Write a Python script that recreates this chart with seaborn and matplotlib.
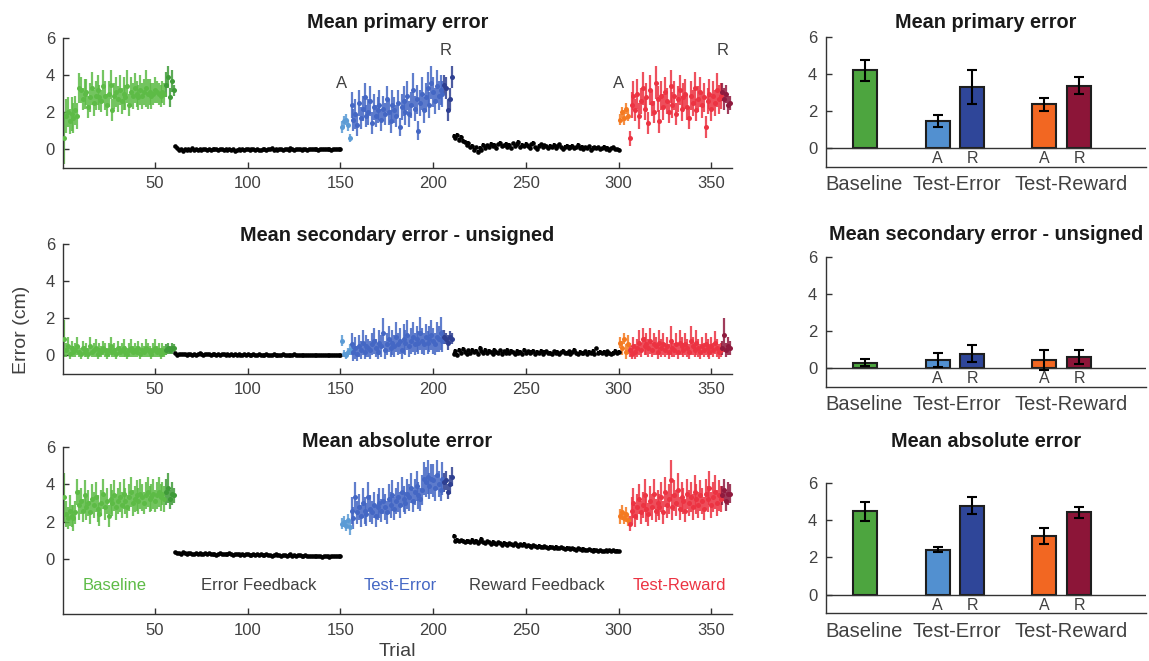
import numpy as np
import pandas as pd
import matplotlib
matplotlib.use("Agg")
import matplotlib.pyplot as plt
import seaborn as sns

# first trial of each block: baseline, error fb, test-error, reward fb, test-reward
seg_start = [1, 61, 151, 211, 301]

# ---------------- mean primary error per trial ----------------
prim_base = [0.6, 1.8, 2.0, 1.5, 1.9, 1.7, 2.1, 1.8, 3.3, 3.2,
             2.7, 3.0, 3.1, 2.3, 2.8, 3.3, 2.5, 2.9, 3.2, 2.8,
             2.6, 3.4, 2.9, 2.4, 3.0, 3.5, 2.1, 2.9, 3.1, 2.7,
             3.2, 2.6, 3.0, 2.8, 3.4, 2.4, 3.1, 2.9, 3.3, 3.0,
             2.8, 3.2, 2.9, 3.1, 3.3, 3.0, 3.1, 2.9, 3.0, 3.2,
             3.1, 3.0, 2.9, 3.1, 3.0, 3.5, 3.9, 2.8, 3.7, 3.2]
prim_base_sd = [1.4, 0.9, 0.8, 0.7, 0.9, 0.8, 0.8, 0.7, 0.8, 0.7,
                0.6, 0.8, 0.7, 0.6, 0.8, 0.9, 0.7, 0.8, 0.8, 0.7,
                0.6, 0.9, 0.8, 0.6, 0.7, 0.8, 0.6, 0.7, 0.8, 0.7,
                0.8, 0.7, 0.9, 0.7, 0.9, 0.6, 0.8, 0.7, 0.8, 0.7,
                0.7, 0.8, 0.7, 0.7, 1.0, 0.8, 0.7, 0.7, 0.6, 0.7,
                0.6, 0.6, 0.6, 0.6, 0.6, 0.7, 0.6, 0.5, 0.6, 0.3]
prim_efb = [0.15, 0.08, -0.05, 0.02, -0.08, 0.03, -0.02, 0.00, -0.06, 0.04,
            -0.03, 0.01, -0.04, 0.02, -0.05, 0.00, 0.03, -0.02, 0.01, -0.06,
            0.02, -0.01, 0.03, -0.04, 0.00, 0.02, -0.03, 0.01, -0.05, 0.03,
            -0.02, 0.00, -0.07, -0.02, 0.01, -0.04, 0.02, -0.03, 0.00, 0.03,
            -0.05, -0.01, 0.02, -0.03, 0.01, -0.06, -0.02, 0.03, 0.00, -0.04,
            0.02, -0.01, 0.04, -0.02, 0.01, -0.03, 0.03, 0.00, -0.05, 0.02,
            0.01, -0.02, 0.04, 0.00, -0.03, 0.02, -0.01, 0.03, -0.04, 0.00,
            0.02, -0.02, 0.01, 0.03, -0.01, 0.00, 0.02, -0.03, 0.01, 0.02,
            -0.01, 0.00, 0.03, 0.01, -0.02, 0.02, 0.00, 0.01, 0.02, 0.00]
prim_efb_sd = [0.08, 0.07, 0.06, 0.05, 0.06, 0.05, 0.05, 0.04, 0.05, 0.05,
               0.04, 0.05, 0.04, 0.05, 0.04, 0.04, 0.05, 0.04, 0.04, 0.05,
               0.04, 0.04, 0.05, 0.04, 0.04, 0.04, 0.05, 0.04, 0.04, 0.04,
               0.04, 0.04, 0.05, 0.04, 0.04, 0.04, 0.04, 0.05, 0.04, 0.04,
               0.04, 0.04, 0.04, 0.05, 0.04, 0.04, 0.04, 0.04, 0.04, 0.05,
               0.04, 0.04, 0.04, 0.04, 0.04, 0.05, 0.04, 0.04, 0.04, 0.04,
               0.04, 0.04, 0.05, 0.04, 0.04, 0.04, 0.04, 0.04, 0.05, 0.04,
               0.04, 0.04, 0.04, 0.04, 0.04, 0.05, 0.04, 0.04, 0.04, 0.04,
               0.04, 0.04, 0.04, 0.05, 0.04, 0.04, 0.04, 0.04, 0.04, 0.04]
prim_te = [1.2, 1.5, 1.6, 1.3, 0.6,
           2.4, 1.6, 1.9, 1.3, 2.5, 1.7, 2.2, 2.8, 1.8, 2.0,
           2.6, 1.4, 2.3, 1.8, 2.1, 2.4, 1.6, 2.2, 1.9, 2.7,
           2.0, 1.5, 2.4, 2.1, 1.8, 2.5, 1.2, 2.3, 2.6, 2.0,
           2.9, 1.9, 2.4, 3.2, 2.2, 2.7, 1.0, 2.5, 3.0, 2.1,
           2.8, 3.3, 2.4, 3.6, 3.1, 2.6, 3.4, 2.9, 3.2, 3.0,
           3.5, 3.3, 2.1, 2.7, 3.9]
prim_te_sd = [0.3, 0.3, 0.3, 0.3, 0.2,
              0.7, 0.6, 0.8, 0.6, 0.7, 0.6, 0.7, 0.8, 0.6, 0.7,
              0.8, 0.6, 0.7, 0.6, 0.7, 0.8, 0.6, 0.7, 0.6, 0.7,
              0.7, 0.6, 0.8, 0.7, 0.6, 0.7, 0.5, 0.7, 0.8, 0.7,
              0.8, 0.7, 0.7, 0.9, 0.7, 0.8, 0.5, 0.7, 0.9, 0.7,
              0.8, 0.9, 0.7, 0.9, 0.8, 0.7, 0.9, 0.8, 0.8, 0.7,
              0.5, 0.6, 0.6, 0.6, 0.6]
prim_rfb = [0.72, 0.60, 0.78, 0.52, 0.68, 0.45, 0.40, 0.22, 0.35, 0.10,
            0.18, -0.05, 0.12, -0.15, 0.08, -0.02, 0.25, 0.05, 0.22, 0.10,
            0.30, 0.18, 0.25, 0.08, 0.28, 0.35, 0.15, 0.22, 0.30, 0.12,
            0.25, 0.05, 0.32, 0.18, 0.28, 0.38, 0.10, 0.22, 0.15, 0.30,
            0.20, 0.08, 0.26, 0.34, 0.12, 0.02, 0.18, 0.28, 0.10, 0.22,
            0.15, 0.05, 0.20, 0.12, 0.24, 0.08, 0.16, 0.26, 0.10, 0.02,
            0.14, 0.20, 0.06, 0.12, 0.18, 0.04, 0.10, 0.22, 0.08, 0.14,
            0.02, 0.10, 0.06, 0.16, -0.02, 0.08, 0.12, 0.04, 0.10, 0.00,
            0.06, 0.14, 0.02, 0.08, -0.02, 0.04, 0.10, 0.00, 0.02, -0.02]
prim_rfb_sd = [0.10, 0.12, 0.09, 0.11, 0.10, 0.09, 0.10, 0.08, 0.09, 0.10,
               0.08, 0.09, 0.08, 0.10, 0.09, 0.08, 0.09, 0.10, 0.08, 0.09,
               0.10, 0.08, 0.09, 0.11, 0.08, 0.09, 0.10, 0.08, 0.09, 0.08,
               0.10, 0.09, 0.08, 0.10, 0.09, 0.11, 0.08, 0.09, 0.10, 0.08,
               0.09, 0.08, 0.10, 0.09, 0.08, 0.09, 0.10, 0.08, 0.09, 0.08,
               0.10, 0.08, 0.09, 0.08, 0.10, 0.09, 0.08, 0.09, 0.10, 0.08,
               0.09, 0.08, 0.07, 0.09, 0.08, 0.07, 0.08, 0.09, 0.07, 0.08,
               0.07, 0.08, 0.07, 0.09, 0.07, 0.08, 0.07, 0.08, 0.07, 0.07,
               0.08, 0.07, 0.07, 0.08, 0.07, 0.07, 0.08, 0.07, 0.07, 0.07]
prim_tr = [1.6, 2.0, 1.7, 2.2, 1.8,
           0.6, 2.4, 2.9, 2.1, 3.0, 1.8, 2.6, 3.3, 2.2, 2.8,
           1.4, 3.2, 2.5, 2.0, 3.6, 2.7, 1.5, 2.9, 2.3, 3.1,
           2.6, 2.0, 3.4, 2.4, 2.9, 1.9, 2.7, 3.2, 2.2, 2.8,
           3.0, 2.3, 1.7, 2.9, 2.5, 3.3, 2.1, 2.7, 3.1, 2.4,
           2.8, 1.2, 2.6, 3.0, 2.2, 2.9, 2.5, 3.2, 2.7, 2.9,
           3.1, 2.7, 3.0, 2.4, 2.5]
prim_tr_sd = [0.3, 0.3, 0.4, 0.3, 0.3,
              0.4, 0.7, 0.8, 0.6, 0.8, 0.7, 0.7, 0.9, 0.6, 0.8,
              0.6, 0.8, 0.7, 0.6, 0.9, 0.7, 0.6, 0.8, 0.7, 0.8,
              0.7, 0.6, 0.9, 0.7, 0.8, 0.6, 0.7, 0.8, 0.7, 0.8,
              0.8, 0.7, 0.6, 0.8, 0.7, 0.9, 0.6, 0.7, 0.8, 0.7,
              0.8, 0.6, 0.7, 0.8, 0.7, 0.8, 0.7, 0.9, 0.8, 0.7,
              0.5, 0.6, 0.5, 0.5, 0.4]

# ---------------- mean secondary error (unsigned) per trial ----------------
sec_base = [0.9, 0.3, 0.5, 0.1, 0.4, 0.2, 0.3, 0.5, 0.2, 0.1,
            0.4, 0.2, 0.3, 0.1, 0.5, 0.2, 0.3, 0.4, 0.1, 0.3,
            0.2, 0.4, 0.3, 0.1, 0.3, 0.5, 0.2, 0.3, 0.1, 0.4,
            0.2, 0.3, 0.4, 0.2, 0.1, 0.3, 0.4, 0.2, 0.3, 0.2,
            0.4, 0.1, 0.3, 0.2, 0.4, 0.3, 0.2, 0.1, 0.3, 0.4,
            0.2, 0.3, 0.1, 0.3, 0.2, 0.3, 0.4, 0.3, 0.4, 0.4]
sec_base_sd = [1.0, 0.4, 0.5, 0.3, 0.4, 0.3, 0.4, 0.5, 0.3, 0.3,
               0.4, 0.3, 0.4, 0.3, 0.5, 0.3, 0.4, 0.5, 0.3, 0.4,
               0.3, 0.4, 0.4, 0.3, 0.4, 0.5, 0.3, 0.4, 0.3, 0.4,
               0.3, 0.4, 0.5, 0.3, 0.3, 0.4, 0.5, 0.3, 0.4, 0.3,
               0.4, 0.3, 0.4, 0.3, 0.5, 0.4, 0.3, 0.3, 0.4, 0.5,
               0.3, 0.4, 0.3, 0.4, 0.3, 0.3, 0.3, 0.2, 0.3, 0.2]
sec_efb = [0.12, 0.05, 0.08, 0.10, 0.06, 0.09, 0.04, 0.07, 0.10, 0.05,
           0.08, 0.03, 0.06, 0.12, 0.07, 0.04, 0.09, 0.06, 0.08, 0.03,
           0.10, 0.07, 0.05, 0.08, 0.04, 0.06, 0.09, 0.03, 0.07, 0.05,
           0.08, 0.04, 0.06, 0.03, 0.07, 0.05, 0.02, 0.06, 0.04, 0.08,
           0.03, 0.05, 0.07, 0.04, 0.02, 0.06, 0.03, 0.05, 0.04, 0.07,
           0.02, 0.05, 0.03, 0.06, 0.04, 0.02, 0.05, 0.03, 0.08, 0.04,
           0.02, 0.05, 0.03, 0.04, 0.06, 0.02, 0.03, 0.05, 0.02, 0.04,
           0.03, 0.01, 0.04, 0.02, 0.03, 0.05, 0.02, 0.01, 0.03, 0.02,
           0.04, 0.02, 0.01, 0.03, 0.02, 0.04, 0.02, 0.03, 0.05, 0.04]
sec_efb_sd = [0.05, 0.04, 0.05, 0.04, 0.04, 0.05, 0.04, 0.04, 0.05, 0.04,
              0.04, 0.04, 0.05, 0.04, 0.04, 0.04, 0.05, 0.04, 0.04, 0.04,
              0.04, 0.05, 0.04, 0.04, 0.04, 0.04, 0.05, 0.04, 0.04, 0.04,
              0.04, 0.04, 0.04, 0.04, 0.05, 0.04, 0.03, 0.04, 0.04, 0.04,
              0.03, 0.04, 0.04, 0.04, 0.03, 0.04, 0.03, 0.04, 0.04, 0.04,
              0.03, 0.04, 0.03, 0.04, 0.04, 0.03, 0.04, 0.03, 0.04, 0.04,
              0.03, 0.04, 0.03, 0.03, 0.04, 0.03, 0.03, 0.04, 0.03, 0.03,
              0.03, 0.03, 0.04, 0.03, 0.03, 0.04, 0.03, 0.03, 0.03, 0.03,
              0.04, 0.03, 0.03, 0.03, 0.03, 0.04, 0.03, 0.03, 0.04, 0.03]
sec_te = [0.8, 0.1, 0.0, 0.2, 0.3,
          0.6, 0.2, 0.4, 0.1, 0.5, 0.3, 0.7, 0.2, 0.5, 0.4,
          0.3, 0.6, 0.8, 0.4, 0.2, 0.7, 0.5, 1.2, 0.3, 0.6,
          0.9, 0.4, 0.7, 0.5, 1.0, 0.6, 0.8, 0.3, 0.9, 0.7,
          1.1, 0.5, 0.8, 1.0, 0.6, 0.9, 0.7, 1.2, 0.8, 0.6,
          1.0, 0.7, 0.9, 1.1, 0.8, 0.6, 1.0, 0.9, 1.2, 0.8,
          1.0, 0.9, 0.7, 1.0, 0.9]
sec_te_sd = [0.3, 0.2, 0.2, 0.2, 0.3,
             0.6, 0.5, 0.6, 0.4, 0.6, 0.5, 0.7, 0.4, 0.6, 0.5,
             0.5, 0.6, 0.7, 0.5, 0.4, 0.7, 0.6, 0.8, 0.5, 0.6,
             0.7, 0.5, 0.7, 0.6, 0.8, 0.6, 0.7, 0.5, 0.8, 0.7,
             0.8, 0.6, 0.7, 0.8, 0.6, 0.7, 0.6, 0.9, 0.7, 0.6,
             0.7, 0.6, 0.7, 0.8, 0.7, 0.6, 0.8, 0.7, 0.9, 0.6,
             0.4, 0.3, 0.4, 0.3, 0.3]
sec_rfb = [0.10, 0.25, 0.05, 0.30, 0.15, 0.35, 0.20, 0.08, 0.28, 0.12,
           0.32, 0.18, 0.25, 0.10, 0.40, 0.22, 0.15, 0.30, 0.12, 0.26,
           0.18, 0.08, 0.32, 0.20, 0.14, 0.28, 0.10, 0.22, 0.16, 0.30,
           0.12, 0.24, 0.18, 0.08, 0.26, 0.14, 0.20, 0.10, 0.28, 0.16,
           0.22, 0.12, 0.18, 0.25, 0.08, 0.20, 0.14, 0.26, 0.10, 0.18,
           0.22, 0.12, 0.16, 0.08, 0.24, 0.14, 0.20, 0.10, 0.18, 0.26,
           0.12, 0.16, 0.22, 0.08, 0.18, 0.30, 0.14, 0.10, 0.20, 0.16,
           0.12, 0.22, 0.08, 0.18, 0.14, 0.24, 0.10, 0.38, 0.16, 0.20,
           0.12, 0.18, 0.10, 0.22, 0.14, 0.08, 0.16, 0.26, 0.12, 0.18]
sec_rfb_sd = [0.09, 0.10, 0.08, 0.10, 0.09, 0.10, 0.09, 0.08, 0.09, 0.08,
              0.10, 0.09, 0.08, 0.09, 0.10, 0.09, 0.08, 0.09, 0.08, 0.09,
              0.08, 0.09, 0.10, 0.08, 0.09, 0.08, 0.09, 0.08, 0.09, 0.10,
              0.08, 0.09, 0.08, 0.09, 0.08, 0.09, 0.08, 0.09, 0.10, 0.08,
              0.09, 0.08, 0.09, 0.08, 0.09, 0.08, 0.09, 0.10, 0.08, 0.09,
              0.08, 0.09, 0.08, 0.09, 0.08, 0.09, 0.08, 0.09, 0.08, 0.09,
              0.08, 0.09, 0.08, 0.09, 0.08, 0.09, 0.08, 0.09, 0.08, 0.09,
              0.08, 0.09, 0.08, 0.09, 0.08, 0.09, 0.08, 0.09, 0.08, 0.09,
              0.08, 0.09, 0.08, 0.09, 0.08, 0.09, 0.08, 0.09, 0.08, 0.09]
sec_tr = [0.7, 0.4, 0.9, 0.2, 0.6,
          0.3, 0.1, 0.5, 0.2, 0.4, 0.7, 0.3, 0.9, 0.5, 0.6,
          0.4, 0.8, 0.3, 0.6, 0.5, 0.2, 0.7, 0.4, 0.6, 0.3,
          0.5, 0.2, 0.8, 0.4, 0.3, 0.6, 0.2, 0.7, 0.5, 0.3,
          0.6, 0.4, 0.2, 0.8, 0.5, 0.3, 0.7, 0.4, 0.2, 0.5,
          0.3, 0.6, 0.4, 0.2, 0.5, 0.3, 0.7, 0.4, 0.2, 0.3,
          0.4, 1.1, 0.3, 0.5, 0.4]
sec_tr_sd = [0.3, 0.4, 0.3, 0.4, 0.5,
             0.4, 0.3, 0.5, 0.4, 0.5, 0.7, 0.4, 0.6, 0.5, 0.6,
             0.5, 0.7, 0.4, 0.6, 0.5, 0.4, 0.7, 0.5, 0.6, 0.4,
             0.5, 0.4, 0.8, 0.5, 0.4, 0.6, 0.4, 0.7, 0.5, 0.4,
             0.6, 0.5, 0.4, 0.8, 0.5, 0.4, 0.7, 0.5, 0.4, 0.5,
             0.4, 0.6, 0.5, 0.4, 0.5, 0.4, 0.6, 0.5, 0.4, 0.4,
             0.4, 0.9, 0.4, 0.5, 0.4]

# ---------------- mean absolute error per trial ----------------
abs_base = [3.3, 2.4, 2.2, 2.6, 2.3, 2.2, 2.5, 3.6, 2.9, 3.1,
            2.6, 3.4, 2.8, 3.0, 2.5, 3.2, 2.9, 3.3, 2.7, 2.4,
            3.0, 3.5, 2.8, 3.1, 2.3, 3.2, 3.0, 3.4, 2.8, 3.1,
            3.3, 2.9, 3.5, 3.1, 2.8, 3.3, 3.6, 3.0, 3.2, 3.4,
            3.1, 3.5, 3.3, 3.0, 3.4, 3.6, 3.2, 3.3, 3.5, 3.1,
            3.4, 3.6, 3.3, 3.5, 3.2, 3.6, 3.8, 3.2, 3.5, 3.4]
abs_base_sd = [1.3, 0.7, 0.6, 0.8, 0.6, 0.7, 0.6, 0.7, 0.8, 0.7,
               0.6, 0.8, 0.7, 0.7, 0.6, 0.8, 0.7, 0.8, 0.7, 0.6,
               0.7, 0.8, 0.7, 0.7, 0.6, 0.8, 0.7, 0.8, 0.7, 0.7,
               0.8, 0.7, 0.8, 0.7, 0.6, 0.7, 0.8, 0.7, 0.7, 0.8,
               0.7, 0.8, 0.7, 0.6, 0.7, 0.8, 0.7, 0.7, 0.8, 0.6,
               0.7, 0.8, 0.7, 0.6, 0.7, 0.7, 0.8, 0.5, 0.6, 0.4]
abs_efb = [0.40, 0.32, 0.36, 0.30, 0.38, 0.34, 0.28, 0.33, 0.36, 0.30,
           0.27, 0.32, 0.29, 0.34, 0.30, 0.26, 0.31, 0.28, 0.33, 0.29,
           0.27, 0.30, 0.25, 0.29, 0.32, 0.27, 0.30, 0.26, 0.28, 0.31,
           0.27, 0.24, 0.29, 0.26, 0.30, 0.25, 0.28, 0.23, 0.27, 0.29,
           0.25, 0.22, 0.27, 0.24, 0.28, 0.23, 0.26, 0.21, 0.25, 0.27,
           0.22, 0.25, 0.20, 0.24, 0.26, 0.21, 0.23, 0.19, 0.22, 0.25,
           0.20, 0.23, 0.27, 0.19, 0.22, 0.18, 0.21, 0.24, 0.17, 0.20,
           0.22, 0.18, 0.16, 0.20, 0.17, 0.19, 0.15, 0.18, 0.16, 0.14,
           0.18, 0.15, 0.17, 0.14, 0.16, 0.19, 0.15, 0.17, 0.16, 0.18]
abs_efb_sd = [0.06, 0.05, 0.05, 0.05, 0.06, 0.05, 0.05, 0.05, 0.05, 0.05,
              0.05, 0.05, 0.04, 0.05, 0.05, 0.04, 0.05, 0.04, 0.05, 0.04,
              0.04, 0.05, 0.04, 0.04, 0.05, 0.04, 0.04, 0.04, 0.04, 0.05,
              0.04, 0.04, 0.04, 0.04, 0.05, 0.04, 0.04, 0.04, 0.04, 0.04,
              0.04, 0.04, 0.04, 0.04, 0.04, 0.04, 0.04, 0.03, 0.04, 0.04,
              0.03, 0.04, 0.03, 0.04, 0.04, 0.03, 0.04, 0.03, 0.03, 0.04,
              0.03, 0.03, 0.04, 0.03, 0.03, 0.03, 0.03, 0.04, 0.03, 0.03,
              0.03, 0.03, 0.03, 0.03, 0.03, 0.03, 0.03, 0.03, 0.03, 0.03,
              0.03, 0.03, 0.03, 0.03, 0.03, 0.03, 0.03, 0.03, 0.03, 0.03]
abs_te = [1.9, 2.0, 1.8, 2.1, 1.7,
          2.6, 2.2, 3.3, 2.5, 2.8, 2.3, 3.0, 2.6, 2.4, 3.3,
          2.7, 2.5, 2.9, 2.3, 2.8, 3.0, 2.6, 3.1, 2.8, 2.5,
          3.2, 2.9, 3.4, 2.7, 3.1, 3.3, 2.9, 3.6, 3.2, 3.0,
          3.5, 3.3, 3.8, 3.1, 3.6, 3.9, 3.4, 3.2, 3.7, 4.3,
          4.1, 4.4, 3.9, 4.3, 4.2, 3.8, 4.5, 4.0, 3.7, 4.3,
          4.1, 4.2, 3.6, 4.0, 4.4]
abs_te_sd = [0.3, 0.3, 0.3, 0.3, 0.4,
             0.7, 0.6, 0.8, 0.6, 0.7, 0.6, 0.8, 0.7, 0.6, 0.8,
             0.7, 0.6, 0.7, 0.6, 0.7, 0.8, 0.6, 0.7, 0.7, 0.6,
             0.8, 0.7, 0.8, 0.6, 0.7, 0.8, 0.7, 0.8, 0.7, 0.6,
             0.8, 0.7, 0.8, 0.6, 0.7, 0.8, 0.7, 0.6, 0.8, 0.9,
             0.8, 0.9, 0.7, 0.8, 0.9, 0.7, 0.8, 0.7, 0.6, 0.9,
             0.5, 0.5, 0.4, 0.5, 0.5]
abs_rfb = [1.25, 1.00, 1.05, 0.95, 1.02, 0.98, 0.92, 1.00, 0.95, 0.90,
           1.02, 0.94, 0.98, 0.88, 0.96, 1.08, 0.92, 0.86, 0.95, 0.90,
           0.84, 0.92, 0.88, 0.80, 0.90, 0.85, 0.78, 0.88, 0.82, 0.76,
           0.85, 0.80, 0.74, 0.86, 0.78, 0.72, 0.80, 0.75, 0.82, 0.70,
           0.76, 0.72, 0.68, 0.75, 0.70, 0.66, 0.72, 0.68, 0.64, 0.70,
           0.66, 0.62, 0.68, 0.64, 0.60, 0.66, 0.62, 0.58, 0.64, 0.60,
           0.56, 0.62, 0.58, 0.55, 0.60, 0.56, 0.52, 0.58, 0.54, 0.50,
           0.56, 0.52, 0.48, 0.54, 0.50, 0.46, 0.52, 0.48, 0.44, 0.50,
           0.46, 0.42, 0.48, 0.45, 0.50, 0.44, 0.48, 0.42, 0.46, 0.44]
abs_rfb_sd = [0.10, 0.09, 0.08, 0.09, 0.08, 0.09, 0.08, 0.09, 0.08, 0.08,
              0.09, 0.08, 0.08, 0.09, 0.08, 0.10, 0.08, 0.08, 0.09, 0.08,
              0.08, 0.09, 0.08, 0.08, 0.08, 0.09, 0.08, 0.08, 0.08, 0.08,
              0.09, 0.08, 0.08, 0.08, 0.08, 0.08, 0.08, 0.08, 0.08, 0.08,
              0.07, 0.08, 0.08, 0.08, 0.07, 0.08, 0.08, 0.07, 0.08, 0.08,
              0.07, 0.08, 0.07, 0.08, 0.07, 0.08, 0.07, 0.07, 0.08, 0.07,
              0.07, 0.07, 0.07, 0.07, 0.07, 0.07, 0.07, 0.07, 0.07, 0.07,
              0.07, 0.07, 0.07, 0.07, 0.06, 0.07, 0.07, 0.06, 0.07, 0.07,
              0.06, 0.07, 0.06, 0.07, 0.06, 0.07, 0.06, 0.06, 0.07, 0.06]
abs_tr = [2.3, 2.5, 2.2, 2.4, 2.1,
          1.9, 2.6, 3.0, 2.3, 2.8, 3.2, 2.5, 2.9, 3.4, 2.7,
          2.4, 3.1, 2.8, 3.5, 2.6, 3.0, 2.8, 3.3, 2.5, 3.6,
          2.9, 3.2, 4.2, 2.8, 3.4, 3.0, 3.7, 2.7, 3.3, 3.1,
          2.6, 3.5, 3.0, 3.3, 2.8, 3.6, 3.2, 2.9, 3.4, 3.1,
          2.7, 3.5, 3.2, 3.8, 2.9, 3.3, 3.6, 3.0, 3.4, 3.2,
          3.4, 3.7, 3.1, 3.5, 3.5]
abs_tr_sd = [0.4, 0.4, 0.3, 0.4, 0.3,
             0.4, 0.7, 0.8, 0.6, 0.7, 0.8, 0.6, 0.7, 0.9, 0.7,
             0.6, 0.8, 0.7, 0.8, 0.6, 0.7, 0.7, 0.8, 0.6, 0.8,
             0.7, 0.8, 1.1, 0.7, 0.8, 0.7, 0.9, 0.6, 0.8, 0.7,
             0.6, 0.8, 0.7, 0.8, 0.7, 0.9, 0.8, 0.7, 0.8, 0.7,
             0.6, 0.8, 0.7, 0.9, 0.7, 0.8, 0.9, 0.7, 0.8, 0.7,
             0.5, 0.6, 0.5, 0.6, 0.5]

# ---------------- bar summaries ----------------
bar_conds = ["Baseline", "Test-Error A", "Test-Error R", "Test-Reward A", "Test-Reward R"]
bar_ticks = ["", "A", "R", "A", "R"]
group_names = ["Baseline", "Test-Error", "Test-Reward"]
prim_bar = [4.21, 1.48, 3.32, 2.38, 3.39]
prim_bar_err = [0.55, 0.34, 0.93, 0.35, 0.47]
sec_bar = [0.30, 0.43, 0.79, 0.46, 0.61]
sec_bar_err = [0.20, 0.37, 0.48, 0.53, 0.36]
abs_bar = [4.46, 2.41, 4.77, 3.16, 4.41]
abs_bar_err = [0.52, 0.12, 0.45, 0.43, 0.29]

block_labels = ["Baseline", "Error Feedback", "Test-Error", "Reward Feedback", "Test-Reward"]

# ---------------- styling / layout ----------------
sub_blocks = [(1, 55, "#5DBB46"), (56, 60, "#3F9B38"), (61, 150, "#000000"),
              (151, 155, "#5B9BD5"), (156, 205, "#4467C4"), (206, 210, "#2E3F91"),
              (211, 300, "#000000"), (301, 305, "#F47A21"), (306, 355, "#EC3342"),
              (356, 360, "#8F1A3E")]
bar_colors = ["#4DA53F", "#5290D0", "#2F4699", "#F26722", "#8C1538"]
bar_pos = [0, 2.09, 3.08, 5.12, 6.13]
group_pos = [0, 2.64, 5.91]
label_pos = [28, 106, 182, 256, 333]
label_colors = ["#5DBB46", "#404040", "#4467C4", "#404040", "#EC3342"]

sns.set_theme(style="ticks")
plt.rcParams["font.family"] = ["Liberation Sans", "DejaVu Sans"]
TXT = "#404040"

W, H = 1149, 661
fig = plt.figure(figsize=(W / 100, H / 100), dpi=100)


def px_axes(left, top, right, bottom):
    return fig.add_axes([left / W, 1 - bottom / H, (right - left) / W, (bottom - top) / H])


def style_axes(ax):
    for s in ["top", "right"]:
        ax.spines[s].set_visible(False)
    for s in ["left", "bottom"]:
        ax.spines[s].set_color("#333333")
        ax.spines[s].set_linewidth(1.0)
    ax.tick_params(direction="in", length=4, width=1, labelsize=12,
                   colors="#333333", labelcolor=TXT, pad=6)
    ax.set_xlabel("")
    ax.set_ylabel("")


def draw_trials(ax, means, sds):
    frames = []
    for start, m, s in zip(seg_start, means, sds):
        frames.append(pd.DataFrame({"trial": start + np.arange(len(m)),
                                    "err": m, "sd": s}))
    df = pd.concat(frames, ignore_index=True)
    for lo, hi, col in sub_blocks:
        sel = df[(df["trial"] >= lo) & (df["trial"] <= hi)]
        black = col == "#000000"
        ax.vlines(sel["trial"], sel["err"] - sel["sd"], sel["err"] + sel["sd"],
                  color=col, lw=1.6, alpha=1.0 if black else 0.85)
        sns.scatterplot(data=sel, x="trial", y="err", color=col,
                        s=11 if black else 13, linewidth=0, ax=ax, zorder=3)
    ax.set_xlim(0.5, 361)
    ax.set_xticks([50, 100, 150, 200, 250, 300, 350])
    ax.set_yticks([0, 2, 4, 6])
    style_axes(ax)


def draw_bars(ax, vals, errs):
    df = pd.DataFrame({"pos": bar_pos, "val": vals, "cond": bar_conds})
    sns.barplot(data=df, x="pos", y="val", hue="cond",
                palette=dict(zip(bar_conds, bar_colors)), native_scale=True,
                width=0.69, saturation=1, edgecolor="#1e1e1e", linewidth=1.5,
                errorbar=None, legend=False, ax=ax, zorder=2)
    ax.errorbar(bar_pos, vals, yerr=errs, fmt="none", ecolor="black",
                elinewidth=1.5, capsize=3.5, capthick=1.5, zorder=4)
    ax.axhline(0, color="#333333", lw=1.0, zorder=3)
    ax.set_xlim(-1.11, 8.03)
    ax.set_ylim(-1, 6)
    ax.set_xticks([])
    ax.set_yticks([0, 2, 4, 6])
    style_axes(ax)
    for x, t in zip(bar_pos, bar_ticks):
        ax.text(x, -0.56, t, ha="center", va="center", fontsize=11.5, color=TXT)
    for x, g in zip(group_pos, group_names):
        ax.text(x, -1.95, g, ha="center", va="center", fontsize=14.5,
                color=TXT, clip_on=False)


L0, L1 = 63.3, 731.7
R0, R1 = 825.7, 1145.7

ax1 = px_axes(L0, 38.3, L1, 167.7)
draw_trials(ax1, [prim_base, prim_efb, prim_te, prim_rfb, prim_tr],
            [prim_base_sd, prim_efb_sd, prim_te_sd, prim_rfb_sd, prim_tr_sd])
ax1.set_ylim(-1, 6)
for x, y, t in [(150.5, 3.56, "A"), (206.6, 5.33, "R"), (300, 3.56, "A"), (356, 5.33, "R")]:
    ax1.text(x, y, t, ha="center", va="center", fontsize=12, color=TXT)

ax2 = px_axes(L0, 244.3, L1, 374)
draw_trials(ax2, [sec_base, sec_efb, sec_te, sec_rfb, sec_tr],
            [sec_base_sd, sec_efb_sd, sec_te_sd, sec_rfb_sd, sec_tr_sd])
ax2.set_ylim(-1, 6)

ax3 = px_axes(L0, 446.7, L1, 614.3)
draw_trials(ax3, [abs_base, abs_efb, abs_te, abs_rfb, abs_tr],
            [abs_base_sd, abs_efb_sd, abs_te_sd, abs_rfb_sd, abs_tr_sd])
ax3.set_ylim(-2.93, 6)
for x, t, c in zip(label_pos, block_labels, label_colors):
    ax3.text(x, -1.4, t, ha="center", va="center", fontsize=12, color=c)

bx1 = px_axes(R0, 37.3, R1, 166.7)
draw_bars(bx1, prim_bar, prim_bar_err)
bx2 = px_axes(R0, 257.3, R1, 386.7)
draw_bars(bx2, sec_bar, sec_bar_err)
bx3 = px_axes(R0, 482.7, R1, 613.3)
draw_bars(bx3, abs_bar, abs_bar_err)

titles = [(397.5, 22, "Mean primary error"), (985.7, 22.5, "Mean primary error"),
          (397.5, 236, "Mean secondary error - unsigned"),
          (985.7, 235, "Mean secondary error - unsigned"),
          (397.5, 441.5, "Mean absolute error"), (985.7, 441.5, "Mean absolute error")]
for x, y, t in titles:
    fig.text(x / W, 1 - y / H, t, ha="center", va="center", fontsize=14.3,
             fontweight="bold", color="#1a1a1a")

fig.text(22 / W, 1 - 330 / H, "Error (cm)", rotation=90, ha="center", va="center",
         fontsize=14, color=TXT)
fig.text(397.5 / W, 1 - 652 / H, "Trial", ha="center", va="center",
         fontsize=14, color=TXT)

fig.savefig("out.png", dpi=100)
